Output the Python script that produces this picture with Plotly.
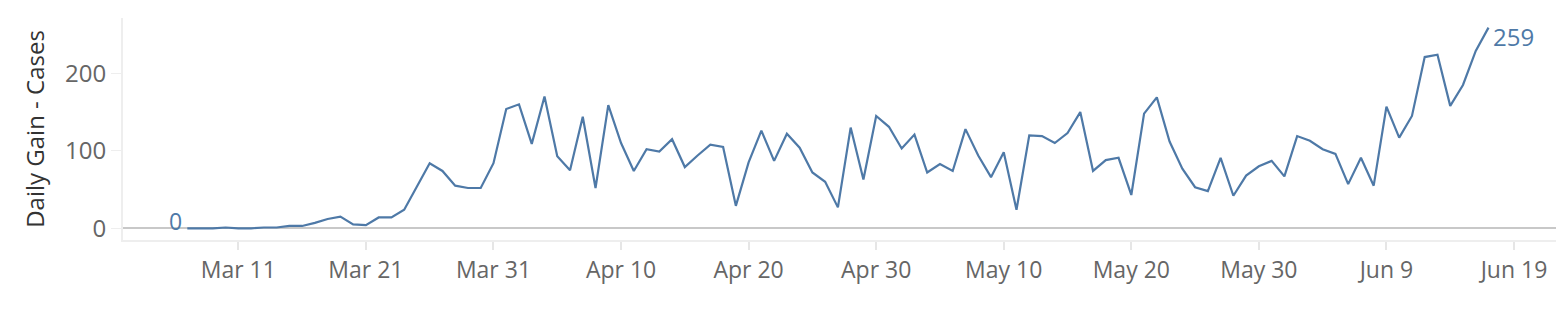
import pandas as pd
import plotly.graph_objects as go

start_date = "2020-03-07"
daily_gain = [
    # Mar 7 - Mar 31
    0, 0, 0, 1, 0, 0, 1, 1, 3, 3, 7, 12, 15, 5, 4, 14, 14, 24, 55, 84, 74, 55, 52, 52, 84,
    # Apr 1 - Apr 30
    154, 160, 109, 170, 93, 75, 144, 52, 159, 110, 74, 102, 99, 115, 79, 94, 108, 105, 29, 85,
    126, 87, 122, 104, 72, 60, 27, 130, 63, 145,
    # May 1 - May 31
    131, 103, 121, 72, 83, 74, 128, 94, 66, 98, 24, 120, 119, 110, 123, 150, 74, 88, 91, 43,
    148, 169, 112, 77, 53, 48, 91, 42, 68, 80, 87,
    # Jun 1 - Jun 17
    67, 119, 113, 102, 96, 57, 91, 55, 157, 117, 145, 221, 224, 158, 185, 229, 259,
]
dates = pd.date_range(start_date, periods=len(daily_gain), freq="D")

x_tick_dates = ["2020-03-11", "2020-03-21", "2020-03-31", "2020-04-10", "2020-04-20",
                "2020-04-30", "2020-05-10", "2020-05-20", "2020-05-30", "2020-06-09", "2020-06-19"]
x_tick_labels = ["Mar 11", "Mar 21", "Mar 31", "Apr 10", "Apr 20", "Apr 30",
                 "May 10", "May 20", "May 30", "Jun 9", "Jun 19"]
y_tick_vals = [0, 100, 200]
y_title = "Daily Gain - Cases"

LINE = "#4e79a7"
FONT = "Open Sans"

fig = go.Figure()
fig.add_trace(go.Scatter(x=dates, y=daily_gain, mode="lines",
                         line=dict(color=LINE, width=2.2), hoverinfo="skip"))

fig.add_annotation(x=dates[0], y=daily_gain[0], text=str(daily_gain[0]), showarrow=False,
                   xanchor="right", yanchor="middle", xshift=-4, yshift=7,
                   font=dict(family=FONT, size=23, color=LINE), borderpad=0)
fig.add_annotation(x=dates[-1], y=daily_gain[-1], text=str(daily_gain[-1]), showarrow=False,
                   xanchor="left", yanchor="middle", xshift=3, yshift=-9,
                   font=dict(family=FONT, size=24, color=LINE), borderpad=0)

fig.update_layout(
    width=1568, height=320,
    margin=dict(l=123, r=12, t=18, b=80),
    paper_bgcolor="white", plot_bgcolor="white",
    showlegend=False,
    font=dict(family=FONT, size=23, color="#666666"),
)
fig.update_xaxes(
    range=["2020-03-01 23:00", "2020-06-22 07:00"],
    tickmode="array", tickvals=x_tick_dates, ticktext=x_tick_labels,
    showgrid=False, zeroline=False,
    showline=True, linecolor="#eeeeee", linewidth=2,
    ticks="outside", ticklen=8, tickcolor="#e6e6e6", tickwidth=2,
    tickfont=dict(family=FONT, size=23, color="#666666"),
)
fig.update_yaxes(
    range=[-15.1, 271.4],
    tickmode="array", tickvals=y_tick_vals,
    showgrid=False,
    zeroline=True, zerolinecolor="#c8c8c8", zerolinewidth=2,
    showline=True, linecolor="#eeeeee", linewidth=2,
    ticks="outside", ticklen=10, tickcolor="#eeeeee", tickwidth=1,
    tickfont=dict(family=FONT, size=24, color="#666666"),
    title=dict(text=y_title, font=dict(family=FONT, size=24, color="#333333"), standoff=14),
)

fig.write_html("out.html")
